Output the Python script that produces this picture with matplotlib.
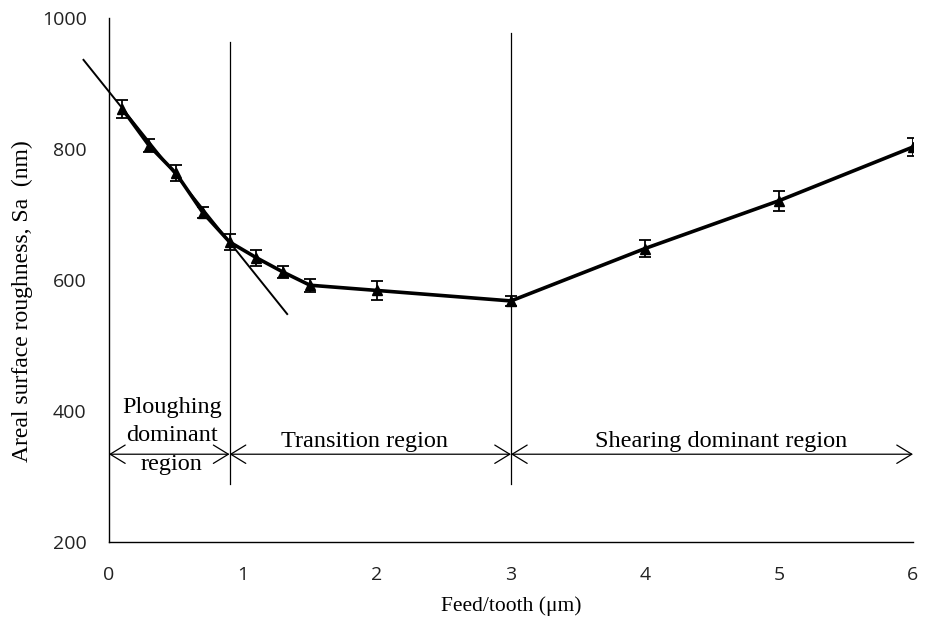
import matplotlib.pyplot as plt
from matplotlib.patches import FancyArrowPatch

# feed per tooth (um) and measured areal roughness Sa (nm) with error
feed = [0.1, 0.3, 0.5, 0.7, 0.9, 1.1, 1.3, 1.5, 2, 3, 4, 5, 6]
sa = [861, 805, 763, 703, 658, 634, 612, 592, 584, 568, 648, 721, 803]
sa_err = [13, 10, 12, 8, 12, 12, 9, 10, 14, 8, 13, 15, 13]

# linear fit through the ploughing region, extended past the boundary
tangent_x = [-0.19, 1.33]
tangent_y = [936, 548]

# region boundaries and labels
boundaries = [0.0, 0.9, 3.0, 6.0]
divider_x = [0.9, 3.0]
divider_top = [963, 977]
divider_bottom = 289
arrow_y = 334
region_labels = ["Ploughing\ndominant\nregion", "Transition region", "Shearing dominant region"]
label_x = [0.47, 1.91, 4.57]
label_y = [362, 354, 354]

serif = "Liberation Serif"

fig = plt.figure(figsize=(9.25, 6.19), dpi=100)
ax = fig.add_axes([0.1178, 0.1244, 0.8692, 0.8466])

ax.errorbar(feed, sa, yerr=sa_err, color="black", lw=2.6, marker="^", ms=7,
            ecolor="black", elinewidth=1.3, capsize=4, capthick=1.3, zorder=3)
ax.plot(tangent_x, tangent_y, color="black", lw=1.4, clip_on=False, zorder=2)

for x, top in zip(divider_x, divider_top):
    ax.plot([x, x], [divider_bottom, top], color="black", lw=0.9)

for x0, x1 in zip(boundaries[:-1], boundaries[1:]):
    arr = FancyArrowPatch((x0, arrow_y), (x1, arrow_y),
                          arrowstyle="<->,head_length=0.9,head_width=0.55",
                          mutation_scale=12, color="black", lw=0.9,
                          shrinkA=0, shrinkB=0, clip_on=False)
    ax.add_patch(arr)

for text, x, y in zip(region_labels, label_x, label_y):
    ax.text(x, y, text, ha="center", va="center", fontsize=17.5,
            family=serif, linespacing=1.45)

ax.set_xlim(0, 6)
ax.set_ylim(200, 1000)
ax.set_xticks([0, 1, 2, 3, 4, 5, 6])
ax.set_yticks([200, 400, 600, 800, 1000])
ax.tick_params(length=0, labelsize=14)
ax.tick_params(axis="y", pad=16)
ax.tick_params(axis="x", pad=17)
for lab in ax.get_xticklabels() + ax.get_yticklabels():
    lab.set_family("Open Sans")
    lab.set_color("#222222")

for side in ["top", "right"]:
    ax.spines[side].set_visible(False)
ax.spines["left"].set_linewidth(1.0)
ax.spines["bottom"].set_linewidth(1.0)

ax.set_xlabel("Feed/tooth (\u03bcm)", fontsize=15.5, family=serif, labelpad=9)
ax.set_ylabel("Areal surface roughness, Sa  (nm)", fontsize=17, family=serif)
ax.yaxis.set_label_coords(-0.0945, 0.46)

fig.savefig("out.png", dpi=100)
